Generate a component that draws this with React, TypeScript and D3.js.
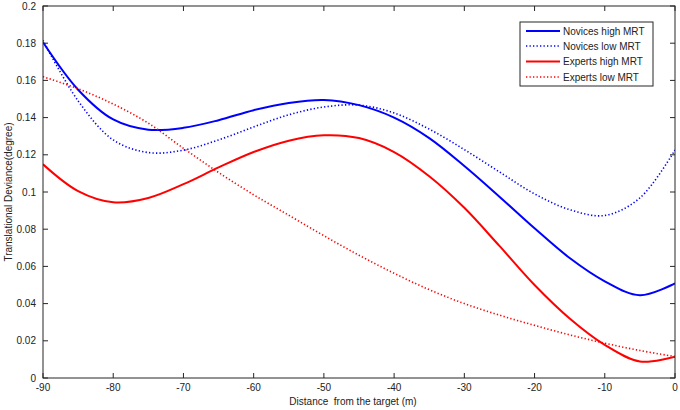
import React from "react";
import * as d3 from "d3";

const distances = [-90, -85, -80, -75, -70, -65, -60, -55, -50, -45, -40, -35, -30, -25, -20, -15, -10, -5, 0];

const novicesHigh = [0.1805, 0.155, 0.139, 0.1335, 0.1345, 0.1386, 0.1440, 0.1479, 0.1495, 0.1467, 0.1400, 0.1290, 0.1140, 0.0975, 0.0805, 0.0645, 0.0520, 0.0445, 0.0509];
const novicesLow = [0.1815, 0.149, 0.128, 0.1212, 0.1225, 0.1280, 0.1350, 0.1415, 0.1457, 0.1467, 0.1425, 0.1338, 0.1228, 0.1108, 0.0990, 0.0905, 0.0874, 0.0968, 0.1226];
const expertsHigh = [0.1149, 0.1005, 0.0945, 0.0968, 0.1042, 0.1132, 0.1215, 0.1276, 0.1305, 0.1290, 0.1215, 0.1085, 0.0915, 0.0710, 0.0500, 0.0320, 0.0178, 0.0089, 0.0115];
const expertsLow = [0.162, 0.1555, 0.1473, 0.137, 0.1235, 0.1105, 0.0985, 0.0875, 0.0765, 0.0660, 0.0563, 0.0475, 0.0400, 0.0338, 0.0283, 0.0232, 0.0187, 0.0148, 0.0115];

const xTicks = [-90, -80, -70, -60, -50, -40, -30, -20, -10, 0];
const yTicks = [0, 0.02, 0.04, 0.06, 0.08, 0.1, 0.12, 0.14, 0.16, 0.18, 0.2];

const seriesNames = ["Novices high MRT", "Novices low MRT", "Experts high MRT", "Experts low MRT"];
const seriesValues = [novicesHigh, novicesLow, expertsHigh, expertsLow];
const seriesColors = ["#0000ff", "#0000ff", "#ff0000", "#ff0000"];
const seriesDotted = [false, true, false, true];

const xLabel = "Distance  from the target (m)";
const yLabel = "Translational Deviance(degree)";

export default function App() {
  const W = 680, H = 410;
  const left = 43, right = 675, top = 6, bottom = 378;
  const x = d3.scaleLinear().domain([-90, 0]).range([left, right]);
  const y = d3.scaleLinear().domain([0, 0.2]).range([bottom, top]);
  const line = d3
    .line<[number, number]>()
    .x((d) => x(d[0]))
    .y((d) => y(d[1]))
    .curve(d3.curveCatmullRom.alpha(0.5));
  const font = "'Liberation Sans', Arial, sans-serif";
  const axisColor = "#262626";
  const tickLen = 5;
  const lgX = 520, lgY = 22, lgW = 133, lgH = 64;
  const rowY = [31, 46, 61.5, 77];

  return (
    <>
      <style>{"body{margin:0}"}</style>
      <svg width={W} height={H} style={{ display: "block", background: "#fff" }} fontFamily={font}>
        <rect x={0} y={0} width={W} height={H} fill="#fff" />
        <defs>
          <clipPath id="plotclip">
            <rect x={left} y={top} width={right - left} height={bottom - top} />
          </clipPath>
        </defs>
        <g clipPath="url(#plotclip)">
          {seriesValues.map((vals, i) => (
            <path
              key={i}
              d={line(distances.map((d, j) => [d, vals[j]] as [number, number])) || ""}
              fill="none"
              stroke={seriesColors[i]}
              strokeWidth={seriesDotted[i] ? 1.6 : 2}
              strokeDasharray={seriesDotted[i] ? "1.3,2.2" : undefined}
            />
          ))}
        </g>
        <rect x={left} y={top} width={right - left} height={bottom - top} fill="none" stroke={axisColor} strokeWidth={1} />
        {xTicks.map((t) => (
          <g key={"x" + t}>
            <line x1={x(t)} x2={x(t)} y1={bottom} y2={bottom - tickLen} stroke={axisColor} />
            <line x1={x(t)} x2={x(t)} y1={top} y2={top + tickLen} stroke={axisColor} />
            <text x={x(t)} y={bottom + 13} fontSize={10} textAnchor="middle" fill="#222">
              {t}
            </text>
          </g>
        ))}
        {yTicks.map((t) => (
          <g key={"y" + t}>
            <line x1={left} x2={left + tickLen} y1={y(t)} y2={y(t)} stroke={axisColor} />
            <line x1={right} x2={right - tickLen} y1={y(t)} y2={y(t)} stroke={axisColor} />
            <text x={left - 7} y={y(t) + 3.5} fontSize={10} textAnchor="end" fill="#222">
              {d3.format("~g")(t)}
            </text>
          </g>
        ))}
        <text x={(left + right) / 2 - 6} y={405} fontSize={10} textAnchor="middle" fill="#222" style={{ whiteSpace: "pre" }}>
          {xLabel}
        </text>
        <text
          transform={`translate(12,${(top + bottom) / 2}) rotate(-90)`}
          fontSize={10}
          textAnchor="middle"
          fill="#222"
        >
          {yLabel}
        </text>
        <rect x={lgX} y={lgY} width={lgW} height={lgH} fill="#fff" stroke={axisColor} strokeWidth={1} />
        {seriesNames.map((name, i) => (
          <g key={name}>
            <line
              x1={526}
              x2={560}
              y1={rowY[i]}
              y2={rowY[i]}
              stroke={seriesColors[i]}
              strokeWidth={seriesDotted[i] ? 1.3 : 2}
              strokeDasharray={seriesDotted[i] ? "1.3,2.2" : undefined}
            />
            <text x={563} y={rowY[i] + 3.5} fontSize={10} fill="#222">
              {name}
            </text>
          </g>
        ))}
      </svg>
    </>
  );
}
